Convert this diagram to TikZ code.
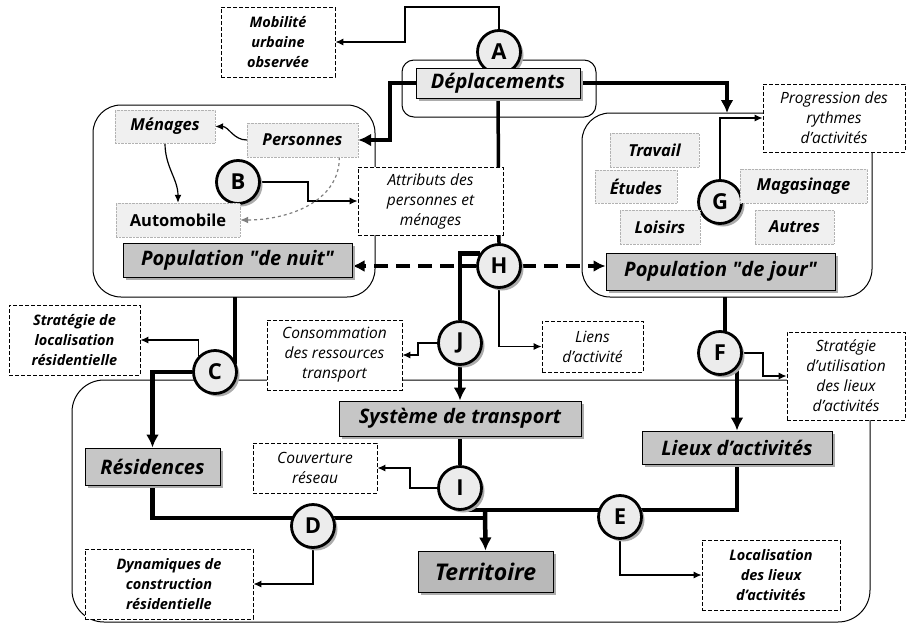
\documentclass[tikz,border=0pt]{standalone}
\usepackage{fontspec}
\setmainfont{Open Sans}
\usetikzlibrary{arrows.meta,shadows,backgrounds}

\begin{document}
\begin{tikzpicture}[x=1pt,y=-1pt,
  ombre/.style={drop shadow={shadow xshift=3pt,shadow yshift=-3pt,fill=gray!65,opacity=1}},
  lettre/.style={draw,circle,line width=2.8pt,fill=gray!15,minimum size=43pt,inner sep=0pt,
    font=\fontsize{22}{22}\selectfont\bfseries,ombre},
  bloc/.style={draw,line width=1pt,fill=gray!45,inner sep=0pt,
    font=\fontsize{20}{20}\selectfont\bfseries\itshape,ombre},
  souscat/.style={draw=gray!60,densely dotted,fill=gray!12,inner sep=0pt,
    font=\fontsize{16.5}{16.5}\selectfont\bfseries\itshape},
  effet/.style={draw,dash pattern=on 4pt off 2pt,line width=0.8pt,fill=white,inner sep=0pt,
    align=center,font=\fontsize{15.5}{20}\selectfont\itshape},
  effetgras/.style={effet,font=\fontsize{14.5}{20}\selectfont\bfseries\itshape},
  cadre/.style={draw,line width=1pt},
  lien/.style={draw,line width=1.2pt,-{Latex[length=8pt,width=7pt]}},
  flux/.style={draw,line width=4.5pt},
  fluxfl/.style={draw,line width=4.5pt,-{Latex[length=13pt,width=13pt]}},
  tirets/.style={draw,line width=3.5pt,dash pattern=on 14pt off 8pt,-{Latex[length=12pt,width=12pt]}}
]
\useasboundingbox (0,0) rectangle (907,624);

% lettres
\node[lettre] (A) at (499,52) {A};
\node[lettre] (B) at (238,182) {B};
\node[lettre] (C) at (215,372) {C};
\node[lettre] (D) at (313,526) {D};
\node[lettre] (E) at (620,517) {E};
\node[lettre] (F) at (720,353) {F};
\node[lettre] (G) at (720,202) {G};
\node[lettre] (H) at (499,266) {H};
\node[lettre] (I) at (460,488) {I};
\node[lettre] (J) at (460,343) {J};

% composantes
\node[bloc,fill=gray!18,minimum width=164pt,minimum height=30pt] (dep) at (498,83) {D\'eplacements};
\node[bloc,minimum width=229pt,minimum height=34pt] (nuit) at (237.5,260) {Population \textquotedbl de nuit\textquotedbl};
\node[bloc,minimum width=229pt,minimum height=37pt] (jour) at (720.5,271.5) {Population \textquotedbl de jour\textquotedbl};
\node[bloc,minimum width=242pt,minimum height=35pt] (sys) at (460,418.5) {Syst\`eme de transport};
\node[bloc,minimum width=135pt,minimum height=37pt] (res) at (152.5,466.5) {R\'esidences};
\node[bloc,minimum width=190pt,minimum height=33pt] (lieux) at (737,447.5) {Lieux d'activit\'es};
\node[bloc,fill=gray!55,minimum width=135pt,minimum height=41pt,font=\fontsize{23}{23}\selectfont\bfseries\itshape] (terr) at (485.5,571.5) {Territoire};

\node[souscat,minimum width=100pt,minimum height=33pt] (men) at (165,126.5) {M\'enages};
\node[souscat,minimum width=111pt,minimum height=34pt] (pers) at (302.5,140) {Personnes};
\node[souscat,minimum width=124pt,minimum height=34pt,font=\fontsize{16.5}{16.5}\selectfont\bfseries] (auto) at (178,220) {Automobile};
\node[souscat,minimum width=89pt,minimum height=34pt] (trav) at (654.5,150) {Travail};
\node[souscat,minimum width=82pt,minimum height=33pt] (etud) at (636,186.5) {\'Etudes};
\node[souscat,minimum width=127pt,minimum height=34pt] (maga) at (803.5,186) {Magasinage};
\node[souscat,minimum width=80pt,minimum height=34pt] (lois) at (660,227) {Loisirs};
\node[souscat,minimum width=79pt,minimum height=34pt] (autr) at (794.5,227) {Autres};

% effets
\node[effetgras,minimum width=114pt,minimum height=70pt] (mob) at (278,42) {Mobilit\'e\\urbaine\\observ\'ee};
\node[effet,minimum width=145pt,minimum height=68pt] (attr) at (430.5,201) {Attributs des\\personnes et\\m\'enages};
\node[effet,minimum width=142pt,minimum height=68pt] (prog) at (834,118) {Progression des\\rythmes\\d'activit\'es};
\node[effetgras,minimum width=131pt,minimum height=70pt] (strat1) at (74.5,340) {Strat\'egie de\\localisation\\r\'esidentielle};
\node[effet,minimum width=135pt,minimum height=70pt] (cons) at (334.5,355) {Consommation\\des ressources\\transport};
\node[effet,minimum width=101pt,minimum height=51pt] (liens) at (592.5,346.5) {Liens\\d'activit\'e};
\node[effet,minimum width=118pt,minimum height=88pt] (strat2) at (846,376) {Strat\'egie\\d'utilisation\\des lieux\\d'activit\'es};
\node[effet,minimum width=124pt,minimum height=50pt] (couv) at (315,468) {Couverture\\r\'eseau};
\node[effetgras,minimum width=168pt,minimum height=70pt] (dyn) at (169,584) {Dynamiques de\\construction\\r\'esidentielle};
\node[effetgras,minimum width=138pt,minimum height=70pt] (loc) at (771,575) {Localisation\\des lieux\\d'activit\'es};

\coordinate (a1) at (405,7);
\coordinate (dl) at (390,140);
\coordinate (jt) at (727,113);
\coordinate (nb) at (235,297);
\coordinate (jb) at (725,297);
\coordinate (bc) at (308,201);
\coordinate (jc) at (418,355);
\coordinate (ic) at (410,468);
\coordinate (fc) at (763,376);
\coordinate (ie) at (462,510);
\coordinate (dj) at (485,518);
\coordinate (tj) at (485,510);

\begin{scope}[on background layer]
% cadres
\draw[cadre,rounded corners=12pt] (402,60) rectangle (596,117);
\draw[cadre,rounded corners=28pt] (93,105) rectangle (375,297);
\draw[cadre,rounded corners=28pt] (582,113) rectangle (872,297);
\draw[cadre,rounded corners=32pt] (72,380) rectangle (870,622);

% flux principaux
\path[fluxfl] (dep.west) -| (dl) -- (pers.east);
\path[fluxfl] (dep.east) -| (jt);
\path[draw,line width=3.5pt] (dep.south) -- (H.north);
\path[flux] (nb) -- (nb |- C.center);
\path[fluxfl] (C.west) -| (res.north);
\path[flux] (H.147) -| (J.north);
\path[fluxfl] (J.south) -- (sys.north);
\path[flux] (sys.south) -- (I.north);
\path[flux] (lieux.south) |- (ie);
\path[flux] (res.south) |- (dj);
\path[fluxfl] (tj) -- (terr.north);
\path[flux] (jb) -- (jb |- F.center);
\path[fluxfl] (lieux.north |- F.center) -- (lieux.north);
\path[tirets] (H.west) -- (H.west -| nuit.east);
\path[tirets] (H.east) -- (H.east -| jour.west);

% effets
\path[lien] (A.north) |- (a1) |- (mob.east);
\path[lien] (C.north west) |- (strat1.east);
\path[lien] (B.east) -| (bc) -- (attr.west);
\path[lien] (H.south) |- (liens.west);
\path[lien] (J.west) -| (jc) -- (cons.east);
\path[lien] (I.west) -| (ic) -- (couv.east);
\path[lien] (D.south) |- (dyn.east);
\path[lien] (E.south) |- (loc.west);
\path[lien] (F.east) -| (fc) -- (strat2.west);
\path[lien] (G.north) |- (prog.west);

% relations internes
\path[lien] (pers.west) to[out=180,in=0] (men.east);
\path[lien] (men.south) to[out=-90,in=90] (auto.north);
\path[lien,draw=gray,dashed] (pers.-25) to[out=-90,in=0] (auto.east);
\end{scope}
\end{tikzpicture}
\end{document}
